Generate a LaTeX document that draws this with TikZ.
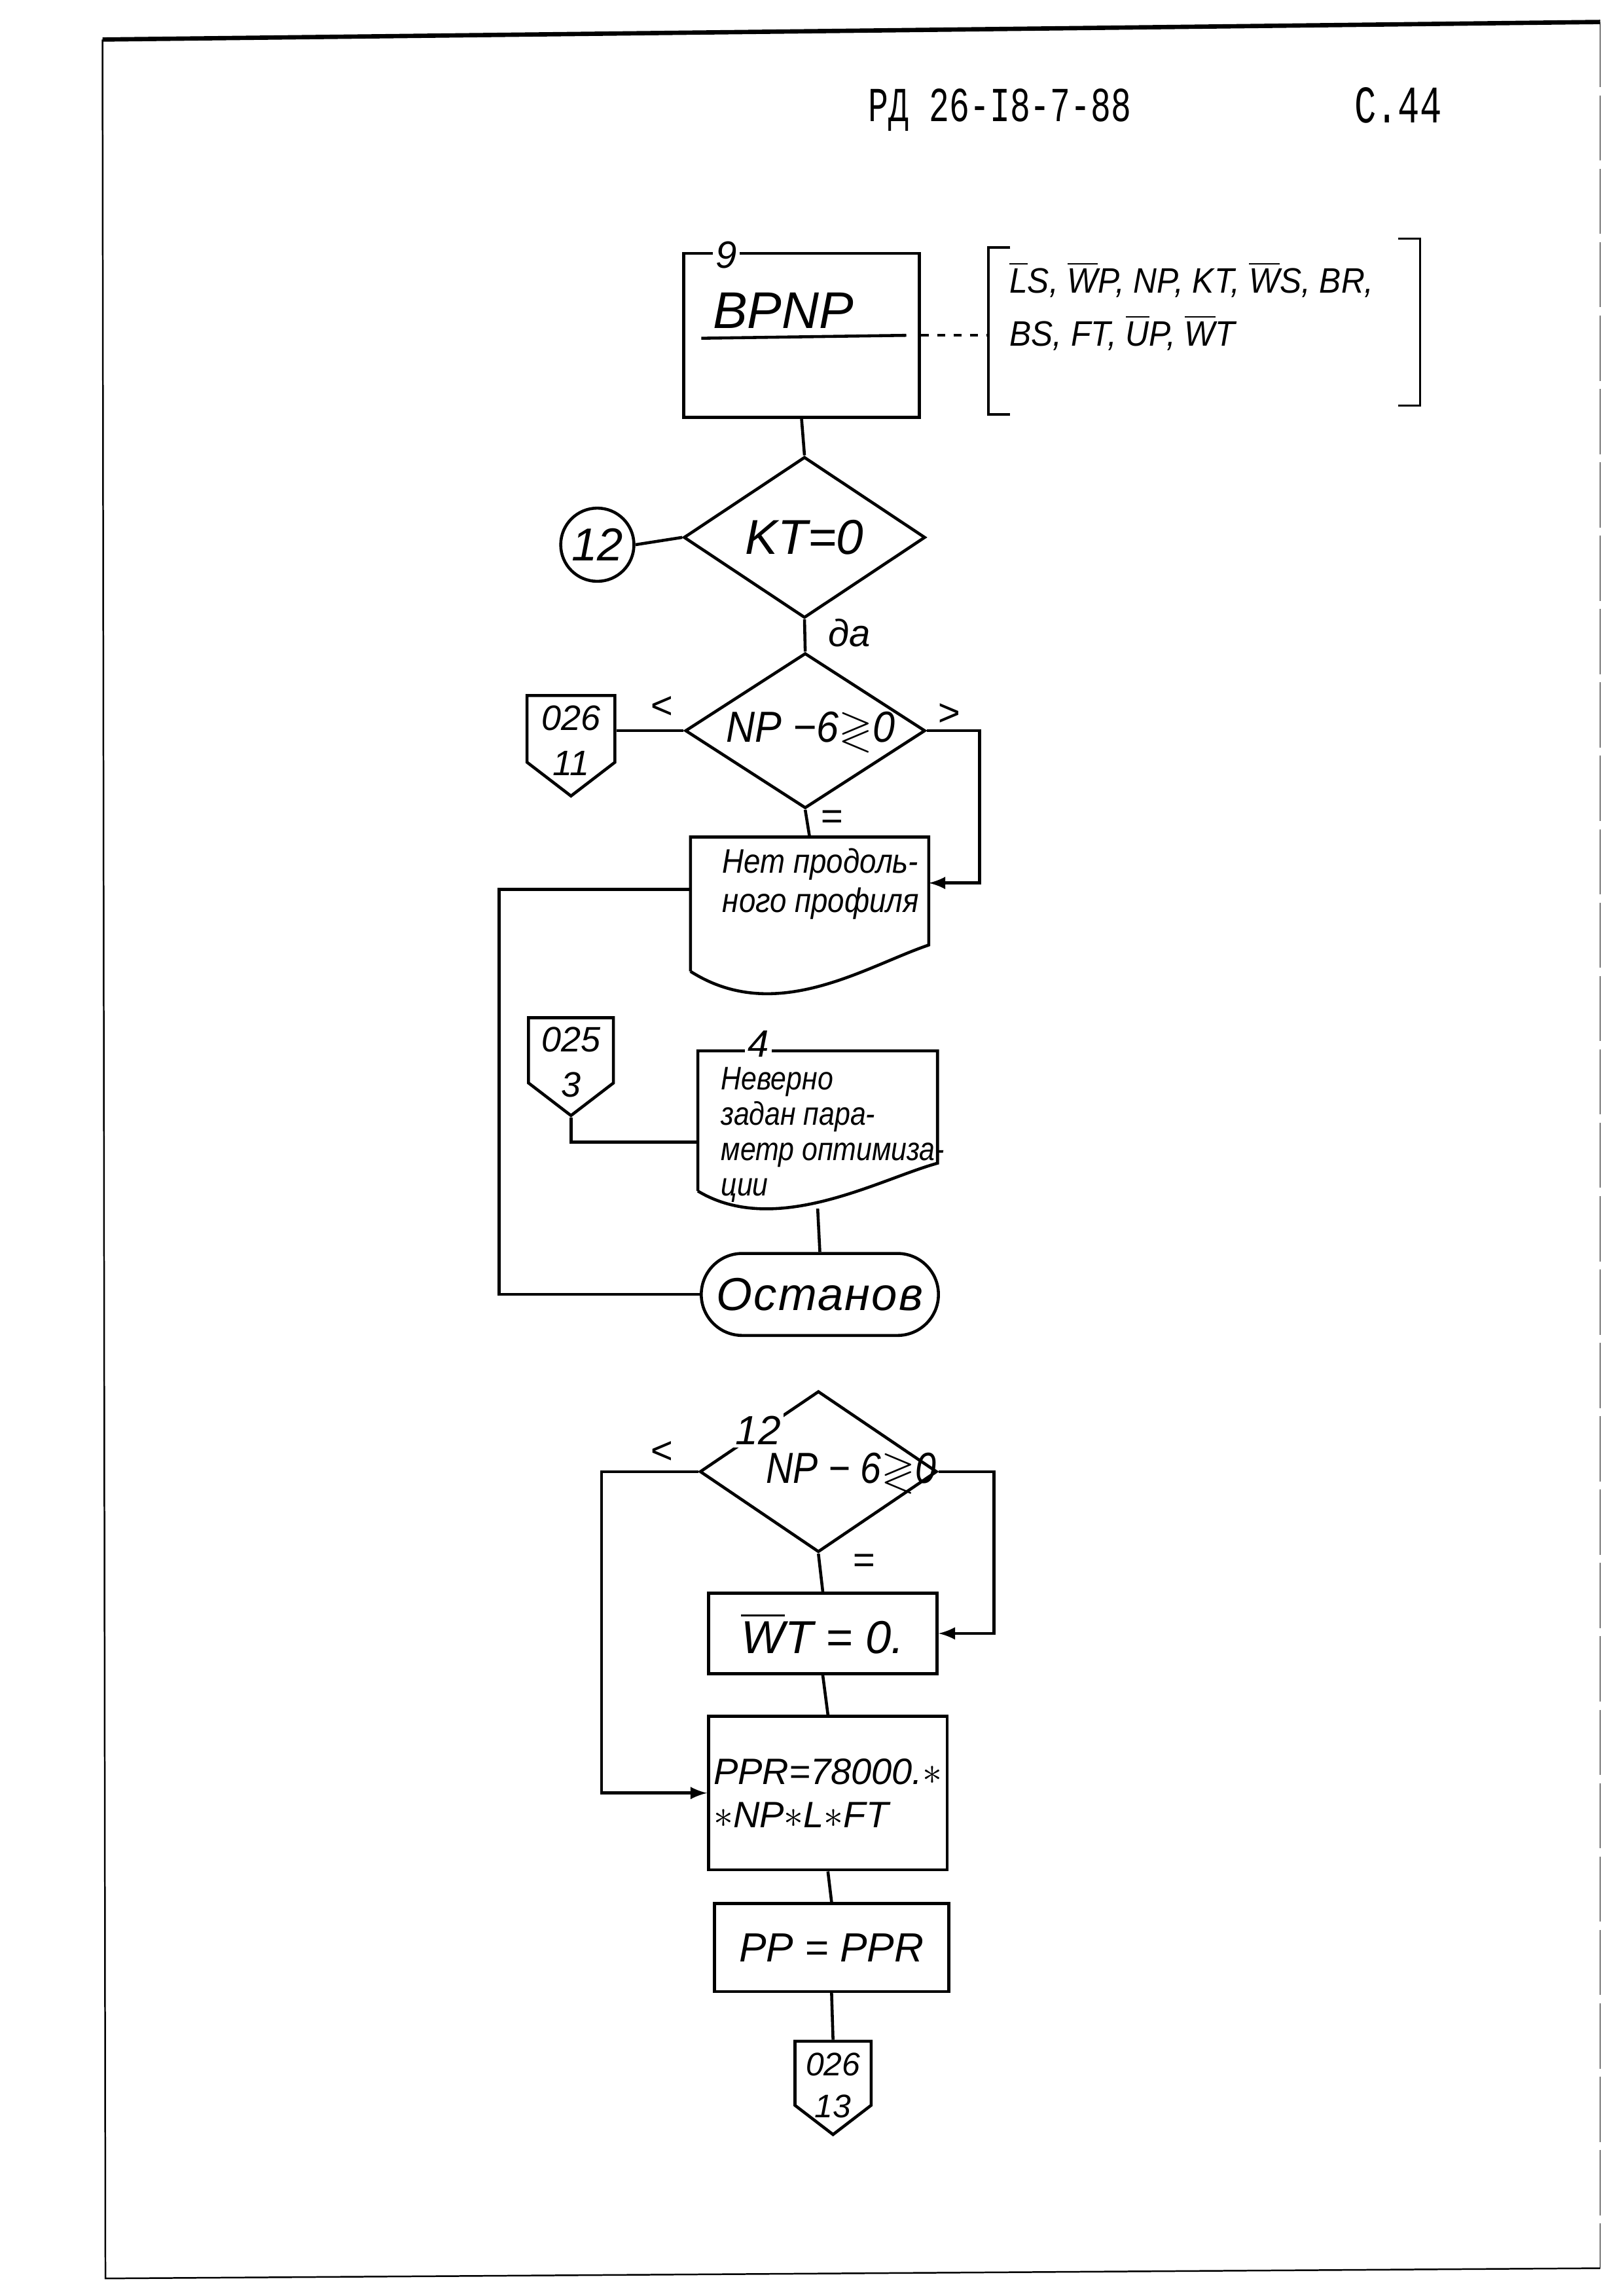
\documentclass[tikz,border=0pt]{standalone}
\usepackage{amssymb}
\usepackage{graphicx}
\usepackage{fontspec}
\setmainfont{Liberation Sans}
\newfontfamily\hand{Liberation Sans}
\newfontfamily\typewr{Liberation Mono}
\usetikzlibrary{shapes.geometric,shapes.symbols,shapes.misc}
\tikzset{>=latex}
\newcommand\px{0.018936cm}
\newcommand\hw[2]{\hand\itshape\fontsize{#1}{#2}\selectfont}
\newcommand\narrow[1]{\addfontfeature{FakeStretch=#1}}
\newcommand\ovl[1]{$\overline{\hbox{#1}}$}
\newcommand\sheetref[2]{\raisebox{-8.5pt}[0pt][0pt]{\begin{tabular}{@{}c@{}}#1\\#2\end{tabular}}}
\tikzset{
  link/.style={line width=1.1pt},
  proc/.style={draw, line width=1.1pt, inner sep=0pt, align=center},
  decide/.style={diamond, draw, line width=1.1pt, inner sep=0pt},
  offpage/.style={signal, signal to=south, signal pointer angle=105, draw,
    line width=1.1pt, inner sep=0pt, font=\hw{13}{16.5}},
  term/.style={rounded rectangle, draw, line width=1.1pt, inner sep=0pt},
  conn/.style={circle, draw, line width=1.1pt, inner sep=0pt},
  note/.style={inner sep=1pt, font=\hw{14}{16}},
}

\begin{document}
\begin{tikzpicture}[x=\px, y=-\px]
\useasboundingbox (0,0) rectangle (1109,1568);
% page frame
\draw[line width=1.6pt] (70,27) -- (1093,15);
\draw[line width=0.6pt] (70,27) -- (72,1556) -- (1093,1549);
\draw[line width=0.4pt, dash pattern=on 24pt off 3pt] (1093,15) -- (1093,1549);
\node[font=\typewr\fontsize{12.4}{14}\selectfont] (hdr) at (683,75) {\scalebox{1}[1.45]{РД 26-I8-7-88}};
\node[font=\typewr\fontsize{13.4}{15}\selectfont] (pg) at (955,72) {\scalebox{1}[1.45]{С.44}};

% block 9
\node[proc, minimum width=161*\px, minimum height=112*\px] (b9) at (547.5,229) {};
\node[note, fill=white] (b9n) at (496,174) {9};
\node[font=\hw{19}{22}] (b9t) at (535,212) {BPNP};
\draw[link] ([xshift=13*\px,yshift=-2*\px]b9.west) -- ([xshift=-10*\px]b9.east);
\coordinate (br) at (675,229);
\draw[line width=0.9pt, dashed] (b9.east) -- (br);
\draw[line width=0.9pt] (690,169) -- (675,169) -- (675,283) -- (690,283);
\draw[line width=0.9pt] (955,163) -- (970,163) -- (970,277) -- (955,277);
\node[anchor=west, align=left, font=\hw{13}{19.5}\narrow{0.92}] (vars) at (683,209)
  {\ovl{L}S, \ovl{W}P, NP, KT, \ovl{W}S, BR,\\ BS, FT, \ovl{U}P, \ovl{W}T};

\node[decide, minimum width=165*\px, minimum height=110*\px, font=\hw{18}{20}] (kt) at (549.5,367) {\makebox[0pt]{KT=0}};
\node[conn, minimum size=50*\px, font=\hw{17}{20}] (c12) at (408,372) {12};
\node[decide, minimum width=164*\px, minimum height=106*\px, font=\hw{16}{18}\narrow{0.92}] (np1) at (550,499) {\makebox[0pt]{\hspace{4pt}NP −6$\gtrless$0}};
\node[offpage, minimum width=60*\px, minimum height=61*\px, anchor=north] (o11) at (390,474) {\sheetref{026}{11}};

% document 1
\node[minimum width=162*\px, minimum height=91*\px, inner sep=0pt] (nt) at (553,617.5) {};
\draw[link] (nt.south west) -- (nt.north west) -- (nt.north east) -- ([yshift=18*\px]nt.south east)
  .. controls +(-44,15) and +(58,37) .. (nt.south west);
\node[anchor=west, align=left, font=\hw{12.5}{14.5}\narrow{0.88}] (ntt) at (487,603.5) {Нет продоль-\\ного профиля};

\node[offpage, minimum width=58*\px, minimum height=60*\px, anchor=north] (o3) at (390,694) {\sheetref{025}{3}};

% document 4
\node[minimum width=163*\px, minimum height=95*\px, inner sep=0pt] (ng) at (558.5,765.5) {};
\draw[link] (ng.south west) -- (ng.north west) -- (ng.north east) -- ([yshift=19*\px]ng.south east)
  .. controls +(-40,11) and +(53,32) .. (ng.south west);
\node[note, fill=white] (ngn) at (518,713) {4};
\node[anchor=west, align=left, font=\hw{12}{13}\narrow{0.86}] (ngt) at (486,775) {Неверно\\задан пара-\\метр оптимиза-\\ции};

\node[term, minimum width=162*\px, minimum height=56*\px, font=\hw{17}{20}\addfontfeature{LetterSpace=3}] (stop) at (560,884) {Останов};
\coordinate (lp) at (341,884);

\draw[link] (b9.south) -- (kt.north);
\draw[link] (c12.east) -- (kt.west);
\draw[link] (kt.south) -- (np1.north);
\node[note] (yes) at (580,432) {да};
\draw[link] (np1.west) -- (np1.west -| o11.east);
\node[note] (lt1) at (452,483) {<};
\draw[link,->] (np1.east) -- ++(36,0) |- ([yshift=14.5*\px]nt.east);
\node[note] (gt1) at (648,488) {>};
\draw[link] (np1.south) -- (nt.north);
\node[note] (eq1) at (568,560) {=};
\draw[link] ([yshift=10*\px]nt.west) -| (lp) -- (stop.west);
\draw[link] (o3.south) |- ([yshift=-14.5*\px]ng.west);
\draw[link] ([yshift=-12*\px]ng.south) -- (stop.north);

% block 12
\node[decide, minimum width=162*\px, minimum height=110*\px, font=\hw{16}{18}\narrow{0.86}] (np2) at (559,1005) {\makebox[0pt]{\hspace{24pt}NP − 6$\gtrless$0}};
\node[note, fill=white, font=\hw{15}{17}] (np2n) at (518,977) {12};
\node[note] (lt2) at (452,992) {<};
\node[proc, minimum width=156*\px, minimum height=55*\px, font=\hw{17}{20}] (wt) at (562,1115.5) {\ovl{W}T = 0.};
\node[proc, minimum width=163*\px, minimum height=105*\px, font=\hw{13.5}{16}, align=left] (ppr) at (565.5,1224.5) {PPR=78000.$*$\\$*$NP$*$L$*$FT};
\node[proc, minimum width=160*\px, minimum height=60*\px, font=\hw{15}{18}] (pp) at (568,1330) {PP = PPR};
\node[offpage, minimum width=52*\px, minimum height=58*\px, anchor=north, font=\hw{12}{15.5}] (o13) at (569,1393) {\sheetref{026}{13}};

\draw[link,->] (np2.west) -- ++(-66,0) |- (ppr.west);
\draw[link,->] (np2.east) -- ++(38,0) |- (wt.east);
\draw[link] (np2.south) -- (wt.north);
\node[note] (eq2) at (590,1068) {=};
\draw[link] (wt.south) -- (ppr.north);
\draw[link] (ppr.south) -- (pp.north);
\draw[link] (pp.south) -- (o13.north);
\end{tikzpicture}
\end{document}
